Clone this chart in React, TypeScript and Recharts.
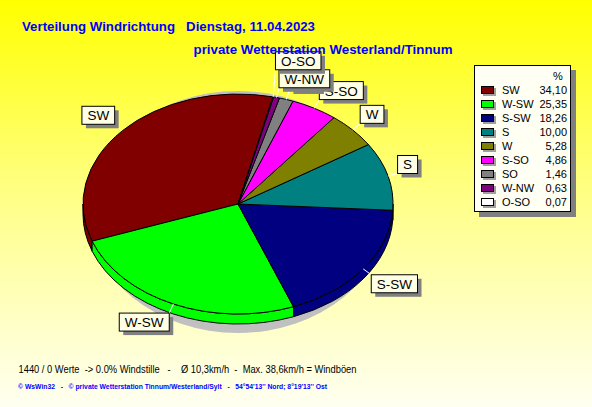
import React from 'react';
import { PieChart, Pie, Legend } from 'recharts';

// Windrichtung, Anteil in %
const directions = ['SW', 'W-SW', 'S-SW', 'S', 'W', 'S-SO', 'SO', 'W-NW', 'O-SO'];
const shares = [34.1, 25.35, 18.26, 10.0, 5.28, 4.86, 1.46, 0.63, 0.07];
const shareLabels = ['34,10', '25,35', '18,26', '10,00', '5,28', '4,86', '1,46', '0,63', '0,07'];
const colors = ['#800000', '#00ff00', '#000080', '#008080', '#808000', '#ff00ff', '#808080', '#800080', '#ffffff'];

const data = directions.map((name, i) => ({ name, value: shares[i] }));

const FONT = '"Liberation Sans", Arial, sans-serif';
const RAD = Math.PI / 180;
const TILT = 110 / 155;
const DEPTH = 10;

const pt = (cx: number, cy: number, rx: number, ry: number, a: number) => [
  cx + rx * Math.cos(a * RAD),
  cy - ry * Math.sin(a * RAD),
];

// elliptic slice with a side wall, drawn from the angles recharts computes
const renderSlice = (p: any) => {
  const { cx, cy, outerRadius, startAngle, endAngle, index } = p;
  const rx = outerRadius;
  const ry = outerRadius * TILT;
  const fill = colors[index];
  const [x0, y0] = pt(cx, cy, rx, ry, startAngle);
  const [x1, y1] = pt(cx, cy, rx, ry, endAngle);
  const large = endAngle - startAngle > 180 ? 1 : 0;
  const top = `M${cx},${cy} L${x0},${y0} A${rx},${ry} 0 ${large} 0 ${x1},${y1} Z`;

  const walls: JSX.Element[] = [];
  for (let k = -1; k <= 1; k++) {
    const a = Math.max(startAngle, 180 + 360 * k);
    const b = Math.min(endAngle, 360 + 360 * k);
    if (b > a) {
      const [ax, ay] = pt(cx, cy, rx, ry, a);
      const [bx, by] = pt(cx, cy, rx, ry, b);
      const lg = b - a > 180 ? 1 : 0;
      const d = `M${ax},${ay} A${rx},${ry} 0 ${lg} 0 ${bx},${by} L${bx},${by + DEPTH} A${rx},${ry} 0 ${lg} 1 ${ax},${ay + DEPTH} Z`;
      walls.push(<path key={k} d={d} fill={fill} stroke="#000" strokeWidth={1} />);
    }
  }

  return (
    <g>
      {index === 0 && <ellipse cx={cx} cy={cy + 8} rx={rx - 6} ry={ry + 11} fill="#c0c0c0" />}
      {walls}
      <path d={top} fill={fill} stroke="#000" strokeWidth={1} />
    </g>
  );
};

const charW: Record<string, number> = { S: 0.667, W: 0.944, '-': 0.333, O: 0.778, N: 0.722 };
const textWidth = (s: string, size: number) =>
  s.split('').reduce((sum, ch) => sum + (charW[ch] ?? 0.6), 0) * size;

const TAG_SIZE = 13.5;
const placed: { px: number; py: number; top: number }[] = [];

const renderTag = (p: any) => {
  const { cx, cy, outerRadius, midAngle, index } = p;
  const rx = outerRadius;
  const ry = outerRadius * TILT;
  const c = Math.cos(midAngle * RAD);
  const s = Math.sin(midAngle * RAD);
  const px = cx + rx * c;
  const py = cy - ry * s;
  const name = directions[index];
  const w = textWidth(name, TAG_SIZE) + 11;
  const h = 18;
  let qx = px + 10 * c;
  let qy = py - 10 * s;
  const left = c < 0 ? qx - w : qx;
  let top = s > 0 ? qy - h : qy;
  const prev = placed[index - 1];
  if (prev && Math.hypot(px - prev.px, py - prev.py) < 6) {
    top = prev.top - h;
    qy = top + h;
  }
  placed[index] = { px, py, top };

  return (
    <g>
      <line x1={px} y1={py} x2={qx} y2={qy} stroke="#ffffff" strokeWidth={1} />
      <rect x={left + 4} y={top + 4} width={w} height={h} fill="#808080" />
      <rect x={left} y={top} width={w} height={h} fill="#ffffe6" stroke="#000" strokeWidth={1} />
      <text x={left + 5.5} y={top + 14} fontFamily={FONT} fontSize={TAG_SIZE} fill="#000">
        {name}
      </text>
    </g>
  );
};

const LegendBox = () => (
  <div
    style={{
      position: 'relative',
      boxSizing: 'border-box',
      width: 97,
      height: 147,
      background: '#fffff4',
      border: '1px solid #000',
      boxShadow: '5px 5px 0 #808080',
      fontFamily: FONT,
      fontSize: 11,
      color: '#000',
    }}
  >
    <div style={{ position: 'absolute', left: 78, top: 3, lineHeight: '14px' }}>%</div>
    {directions.map((d, i) => (
      <div key={d} style={{ position: 'absolute', left: 0, top: 17 + i * 14, width: 95, height: 14 }}>
        <span
          style={{
            position: 'absolute',
            left: 6,
            top: 3,
            width: 11,
            height: 6,
            background: colors[i],
            border: '1px solid #000',
            boxShadow: '2px 2px 0 #a0a0a0',
          }}
        />
        <span style={{ position: 'absolute', left: 27, top: 0, lineHeight: '14px' }}>{d}</span>
        <span style={{ position: 'absolute', right: 3, top: 0, lineHeight: '14px' }}>{shareLabels[i]}</span>
      </div>
    ))}
  </div>
);

export default function App() {
  return (
    <div
      style={{
        position: 'absolute',
        left: 0,
        top: 0,
        width: 592,
        height: 407,
        overflow: 'hidden',
        background: 'linear-gradient(to bottom, #ffff00 0%, #ffff80 45%, #fffff2 100%)',
      }}
    >
      <PieChart width={592} height={407} margin={{ top: 0, right: 0, bottom: 0, left: 0 }}>
        <Pie
          data={data}
          dataKey="value"
          nameKey="name"
          cx={238}
          cy={204}
          outerRadius={155}
          startAngle={77}
          endAngle={437}
          fill="none"
          stroke="none"
          label={renderSlice}
          labelLine={false}
          isAnimationActive={false}
        />
        <Pie
          data={data}
          dataKey="value"
          nameKey="name"
          cx={238}
          cy={204}
          outerRadius={155}
          startAngle={77}
          endAngle={437}
          fill="none"
          stroke="none"
          label={renderTag}
          labelLine={false}
          legendType="none"
          isAnimationActive={false}
        />
        <Legend
          layout="vertical"
          align="right"
          verticalAlign="top"
          content={() => <LegendBox />}
          wrapperStyle={{ left: 474, top: 65, right: 'auto', bottom: 'auto', width: 102, height: 152 }}
        />
      </PieChart>
      <svg
        width={592}
        height={407}
        style={{ position: 'absolute', left: 0, top: 0, pointerEvents: 'none' }}
      >
        <text x={22} y={30.5} fontFamily={FONT} fontSize={13.5} fontWeight="bold" fill="#0000ff"
          textLength={293} lengthAdjust="spacingAndGlyphs" style={{ whiteSpace: 'pre' }}>
          {'Verteilung Windrichtung   Dienstag, 11.04.2023'}
        </text>
        <text x={193.5} y={54} fontFamily={FONT} fontSize={13.5} fontWeight="bold" fill="#0000ff"
          textLength={259} lengthAdjust="spacingAndGlyphs">
          private Wetterstation Westerland/Tinnum
        </text>
        <text x={18.5} y={373} fontFamily={FONT} fontSize={11} fill="#000"
          textLength={338} lengthAdjust="spacingAndGlyphs" style={{ whiteSpace: 'pre' }}>
          {'1440 / 0 Werte  -> 0.0% Windstille   -    Ø 10,3km/h  -  Max. 38,6km/h = Windböen'}
        </text>
        <text x={18} y={388.5} fontFamily={FONT} fontSize={7.5} fontWeight="bold" fill="#0000ff"
          textLength={309} lengthAdjust="spacingAndGlyphs" style={{ whiteSpace: 'pre' }}>
          {"© WsWin32   -   © private Wetterstation Tinnum/Westerland/Sylt   -   54°54'13'' Nord; 8°19'13'' Ost"}
        </text>
      </svg>
    </div>
  );
}
